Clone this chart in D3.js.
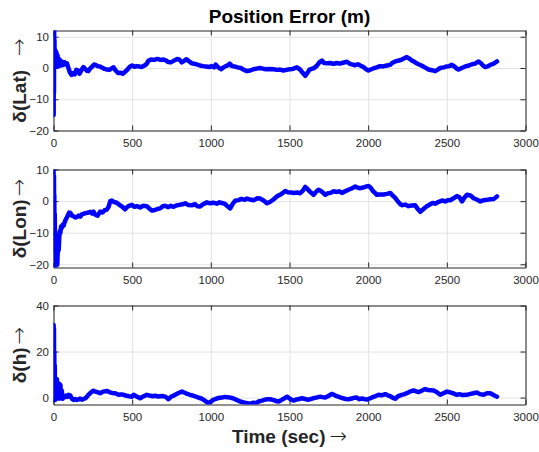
<!DOCTYPE html>
<html>
<head>
<meta charset="utf-8">
<script src="https://cdn.jsdelivr.net/npm/d3@7"></script>
<style>
  html, body { margin: 0; padding: 0; background: #fff; }
  svg { display: block; }
  text { font-family: "Liberation Sans", Arial, Helvetica, sans-serif; }
</style>
</head>
<body>
<svg id="chart" width="539" height="452"></svg>
<script>
// ---- data --------------------------------------------------------------
const xTicks = [0, 500, 1000, 1500, 2000, 2500, 3000];
const latTicks = [-20, -10, 0, 10];
const lonTicks = [-20, -10, 0, 10];
const hTicks = [0, 20, 40];

const latTime = [0,1,2,3,4,5,6,7,9,11,13,16,19,22,26,30,34,38,42,48,55,62,70,78,85,95,105,115,125,135,145,155,165,172,180,190,200,212,222,232,245,258,268,280,295,310,325,340,355,370,382,395,410,425,440,455,470,485,500,515,530,545,560,575,590,605,620,640,660,680,700,715,730,745,760,775,790,802,815,830,845,860,880,900,915,930,950,970,990,1005,1020,1030,1045,1065,1080,1095,1110,1120,1135,1150,1170,1190,1210,1230,1250,1270,1290,1310,1330,1350,1378,1400,1420,1440,1462,1480,1500,1520,1547,1565,1585,1600,1615,1627,1645,1657,1675,1690,1706,1720,1740,1759,1780,1800,1822,1840,1865,1885,1900,1918,1935,1950,1970,1985,2002,2020,2040,2055,2075,2095,2119,2140,2155,2172,2195,2214,2230,2246,2262,2275,2289,2305,2320,2342,2360,2384,2405,2426,2440,2458,2480,2500,2515,2532,2550,2565,2575,2595,2617,2640,2660,2680,2702,2715,2730,2744,2760,2776,2795,2819];
const latValues = [2,-15,11.5,-8,12,0,9,3,6,1,5.5,0.5,5,1.5,4,0.5,3,1,2.5,0.8,2,1,1.8,1.2,1.5,0,-1.5,-2.2,-1.6,-2,-0.6,-0.8,-1.8,-1.2,-0.4,0.3,-0.2,-0.9,-1,-0.2,0.4,1.1,1,0.6,0.5,0.1,-0.3,-0.5,-0.6,-0.1,0.2,-0.8,-1.6,-1.5,-1.8,-1.2,-0.5,0.4,0.8,0.4,0.6,0.5,0.3,0.7,1.2,2.4,2.7,2.6,2.9,2.6,2.7,2.4,1.9,1.8,2.2,2.6,2.9,2.6,1.8,2.3,2.8,2.2,1.5,1.3,1.1,0.8,0.6,0.5,0.3,0.6,0.2,1.1,0.3,-0.4,0.2,0.6,0.9,1.4,0.6,0.5,0.2,0,-0.6,-1,-0.8,-0.4,-0.2,0,-0.2,-0.4,-0.3,-0.4,-0.6,-0.5,-0.8,-0.6,-0.4,-0.3,0.2,-0.4,-1.6,-2.5,-1.5,-0.5,-0.2,0,0.8,1.8,2.4,1.6,1.5,1.6,1.3,1.6,1.4,1.7,2,1.3,1.1,0.9,1.2,0.8,0.3,-0.3,-0.8,-0.4,0,0.2,0.6,0.5,0.8,1,1.7,2.1,2.4,2.7,3.1,3.5,3,2.5,2.1,1.6,1.2,0.7,0.2,-0.5,-0.7,-1,-0.6,0,0.2,0.5,0.6,1,0.4,-0.3,-0.5,0,0.5,0.8,1.2,1.4,2.1,1.6,0.8,0.3,0.5,1,1.3,2.1];

const lonTime = [0,2,3,4,5,6,8,10,12,14,16,18,21,24,27,30,33,37,40,44,48,53,58,64,70,78,85,92,100,108,117,127,138,149,160,170,180,191,205,222,233,245,254,265,280,297,312,325,339,350,361,371,385,402,420,440,455,470,485,498,515,530,551,570,593,610,625,645,660,678,695,710,730,745,763,780,800,820,837,855,879,900,915,932,950,975,995,1015,1038,1055,1070,1090,1110,1123,1140,1155,1175,1195,1215,1230,1250,1272,1295,1314,1335,1357,1378,1400,1420,1440,1458,1473,1490,1510,1526,1548,1568,1585,1600,1615,1630,1653,1670,1684,1700,1715,1727,1745,1760,1780,1800,1815,1833,1850,1875,1895,1918,1935,1950,1970,1985,2002,2015,2030,2045,2055,2075,2098,2120,2140,2155,2172,2190,2205,2214,2235,2256,2275,2299,2315,2331,2350,2373,2395,2410,2426,2445,2469,2490,2505,2522,2540,2564,2580,2596,2610,2628,2650,2670,2690,2713,2735,2755,2776,2800,2819];
const lonValues = [10,4,8,-6,2,-10,-4,-16,-12,-20.5,-17,-20.5,-19,-20,-16,-14,-15.5,-11,-9.5,-10,-8,-8.5,-7.5,-7.8,-6.8,-5.8,-5.2,-4.4,-3.6,-3.8,-4.6,-4.8,-5.2,-5,-4.6,-4.9,-4.2,-4,-3.8,-3.6,-3.4,-3.9,-3.3,-4.3,-4.6,-3.3,-3.6,-2.9,-2.7,-1.8,0,0.2,-0.3,-0.5,-1.2,-1.9,-2.6,-1.8,-1.4,-1.2,-1.8,-1.6,-2,-1.5,-1.6,-2.4,-3,-2.8,-2.5,-2.3,-1.6,-1.5,-1.9,-1.5,-1.8,-1.4,-1.2,-1,-0.7,-1.2,-1.3,-1,-1.6,-1.7,-1,-0.4,-0.7,-0.5,-0.8,-0.4,-0.6,-0.9,-1.8,-2.3,-0.8,0.1,0.3,0.7,0.4,0.8,0.5,0.3,0.9,0.8,0.2,-0.7,-0.2,0.6,1.5,2,2.6,3.2,2.8,2.7,2.6,2.7,2.5,3.3,4.5,3.8,3,2,3,3.6,3.2,2.6,2,2.5,2.6,3.1,2.9,3.1,2.6,3,3.6,4,4.6,4.2,4.1,4.3,4.6,4.8,4.3,3.2,2.5,2,2.1,2.1,2.3,2.6,1.8,1,-0.2,-1,-1.3,-1.1,-1.6,-1.4,-1.3,-2.5,-3.4,-2.6,-1.6,-1,-0.6,-0.8,-0.3,0.2,-0.1,0.3,0.3,0.8,1.6,1.2,-0.1,1,2,1.8,0.9,0.5,-0.1,0.3,0.4,0.6,0.7,1.5];

const hTime = [0,1,2,3,4,5,6,8,10,12,14,16,19,22,25,28,32,36,40,44,48,53,58,64,72,80,88,96,106,117,127,138,149,159,170,180,191,205,222,238,254,265,278,297,315,339,355,371,392,413,430,445,465,480,498,509,525,540,551,570,593,610,630,646,665,690,710,722,731,750,773,795,816,835,850,869,890,905,922,940,960,975,985,1000,1015,1027,1045,1070,1090,1105,1123,1140,1160,1186,1210,1230,1250,1270,1290,1303,1320,1340,1357,1378,1400,1415,1431,1450,1468,1484,1500,1515,1526,1545,1560,1579,1600,1615,1632,1650,1670,1695,1710,1727,1745,1769,1785,1800,1822,1840,1857,1875,1895,1910,1928,1945,1960,1981,1995,2013,2030,2048,2066,2085,2108,2125,2140,2160,2172,2190,2214,2230,2246,2265,2289,2305,2320,2340,2362,2380,2400,2416,2435,2458,2475,2500,2520,2540,2564,2580,2600,2628,2650,2670,2691,2710,2734,2755,2776,2800,2819];
const hValues = [0,31.5,5,30,-1,20,2,14,-1,8.5,1,7,0,8,-0.5,5,1,6,-0.5,5.5,0,3,-0.5,0.4,0.2,0.8,0.3,1.2,1,-0.5,-1,-0.6,-1,-0.8,-0.4,-0.9,-0.6,-0.2,1.2,2.3,3,2.6,2.4,1.9,2.6,2.9,2.4,2,1.9,1.2,1.4,1.2,0.8,0.6,0.4,1.2,0.6,0.1,-0.3,0.5,1.2,0.9,0.6,0.8,0.5,0.7,0.4,-0.2,-0.7,0.5,1.2,2,2.6,2.1,1.6,1.2,0.8,0.4,0,-0.4,-1.2,-2,-2.4,-1.8,-1,-0.7,-0.2,0,0.3,0.1,0,-0.3,-0.9,-1.7,-2.1,-2.4,-2.7,-2.2,-2.4,-1.7,-1.4,-1,-0.7,-0.7,-1.1,-1.5,-1.7,-1,-0.3,0.4,-0.4,-1,-1.3,-0.8,-0.6,-0.3,-0.6,-0.9,-0.7,-0.3,0,0.4,0.2,0,0.6,1.6,1.1,0.6,0.1,-0.3,-0.6,-0.7,-0.4,-0.1,0,-0.7,-0.4,-0.7,-0.8,-0.3,0.2,0.7,1.2,1,1.5,1,0.6,-0.2,-0.5,0.6,1.2,1.5,1.9,2.6,3.1,2.7,2.4,3,3.7,3.3,3.2,3.1,2.4,1.2,1.8,2.6,2.3,1.9,1.2,1.5,1.1,1.2,1.6,1.9,2.2,1.5,1.2,1.9,1.9,1,0.4];

// ---- layout -------------------------------------------------------------
const svg = d3.select("#chart");
const left = 53.5, right = 525.5;
const axisColor = "#262626";
const gridColor = "#e3e3e3";
const lineColor = "#0000ff";
const arrowFont = '"DejaVu Sans", sans-serif';

const panels = [
  { time: latTime, values: latValues, domain: [-20, 12], ticks: latTicks, top: 30.5, bottom: 130.5, label: "δ(Lat)", arrowGap: 14 },
  { time: lonTime, values: lonValues, domain: [-21, 10], ticks: lonTicks, top: 169.5, bottom: 267.5, label: "δ(Lon)", arrowGap: 3 },
  { time: hTime,   values: hValues,   domain: [-3, 40],  ticks: hTicks,   top: 305.5, bottom: 404.5, label: "δ(h)",   arrowGap: 3 }
];

const x = d3.scaleLinear().domain([0, 3000]).range([left, right]);

// thin, long arrow glyph appended after a bold label
function addArrow(textSel, gap) {
  textSel.append("tspan")
    .attr("dx", gap)
    .style("font-family", arrowFont)
    .style("font-weight", "200")
    .style("font-size", "21px")
    .text("→");
}

panels.forEach((p, i) => {
  const y = d3.scaleLinear().domain(p.domain).range([p.bottom, p.top]);
  const g = svg.append("g");
  const h = p.bottom - p.top;

  // grid
  g.append("g")
    .attr("transform", `translate(0,${p.bottom})`)
    .call(d3.axisBottom(x).tickValues(xTicks).tickSize(-h).tickFormat(""))
    .call(s => s.select(".domain").remove())
    .call(s => s.selectAll("line").attr("stroke", gridColor));
  g.append("g")
    .attr("transform", `translate(${left},0)`)
    .call(d3.axisLeft(y).tickValues(p.ticks).tickSize(-(right - left)).tickFormat(""))
    .call(s => s.select(".domain").remove())
    .call(s => s.selectAll("line").attr("stroke", gridColor));

  // box axes with inward ticks
  const styleAxis = s => {
    s.select(".domain").attr("stroke", axisColor);
    s.selectAll(".tick line").attr("stroke", axisColor);
    s.selectAll(".tick text").attr("fill", axisColor).style("font-size", "11.5px")
      .style("font-family", '"Liberation Sans", Arial, sans-serif');
  };
  g.append("g")
    .attr("transform", `translate(0,${p.bottom})`)
    .call(d3.axisBottom(x).tickValues(xTicks).tickFormat(d3.format("d"))
      .tickSizeInner(-5).tickSizeOuter(0).tickPadding(8.4))
    .call(styleAxis);
  g.append("g")
    .attr("transform", `translate(0,${p.top})`)
    .call(d3.axisTop(x).tickValues(xTicks).tickSizeInner(-5).tickSizeOuter(0).tickFormat(""))
    .call(styleAxis);
  g.append("g")
    .attr("transform", `translate(${left},0)`)
    .call(d3.axisLeft(y).tickValues(p.ticks).tickFormat(d3.format("d"))
      .tickSizeInner(-5).tickSizeOuter(0).tickPadding(4.5))
    .call(styleAxis);
  g.append("g")
    .attr("transform", `translate(${right},0)`)
    .call(d3.axisRight(y).tickValues(p.ticks).tickSizeInner(-5).tickSizeOuter(0).tickFormat(""))
    .call(styleAxis);

  // data line, clipped to the axes box
  const clipId = "clip" + i;
  svg.append("clipPath").attr("id", clipId)
    .append("rect").attr("x", left).attr("y", p.top).attr("width", right - left).attr("height", h);
  const pts = p.time.map((t, k) => [t, p.values[k]]);
  g.append("path")
    .datum(pts)
    .attr("clip-path", `url(#${clipId})`)
    .attr("fill", "none")
    .attr("stroke", lineColor)
    .attr("stroke-width", 4.5)
    .attr("stroke-linejoin", "round")
    .attr("stroke-linecap", "round")
    .attr("d", d3.line().x(d => x(d[0])).y(d => y(d[1])));

  // y label
  const cy = (p.top + p.bottom) / 2;
  const lab = svg.append("text")
    .attr("transform", `translate(25.5,${cy}) rotate(-90)`)
    .attr("text-anchor", "middle")
    .attr("fill", axisColor)
    .style("font-size", "19px");
  lab.append("tspan").attr("font-weight", "bold").text(p.label);
  addArrow(lab, p.arrowGap);
});

// title
svg.append("text")
  .attr("x", (left + right) / 2).attr("y", 22.5)
  .attr("text-anchor", "middle")
  .attr("font-weight", "bold")
  .attr("fill", "#000")
  .style("font-size", "19px")
  .text("Position Error (m)");

// x label
const xl = svg.append("text")
  .attr("x", (left + right) / 2).attr("y", 443)
  .attr("text-anchor", "middle")
  .attr("fill", axisColor)
  .style("font-size", "19px");
xl.append("tspan").attr("font-weight", "bold").text("Time (sec)");
addArrow(xl, 4);
</script>
</body>
</html>
